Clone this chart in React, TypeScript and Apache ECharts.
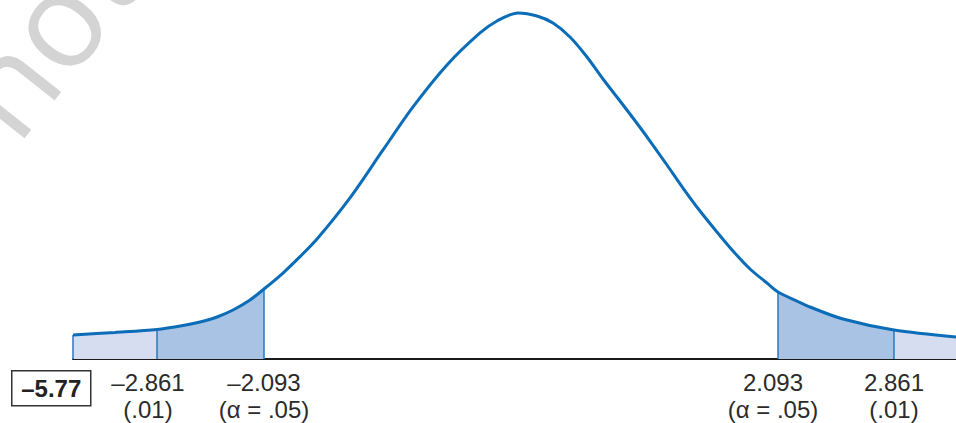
import React, { useEffect, useRef } from "react";
import * as echarts from "echarts";

// Curve (x in t-units along the axis, y in density units)
const curveX = [-3.584, -3.248, -2.912, -2.704, -2.568, -2.432, -2.304, -2.168, -2.056, -1.904, -1.768, -1.632, -1.368, -1.104, -0.864, -0.592, -0.328, -0.192, -0.024, 0.128, 0.256, 0.392, 0.528, 0.656, 0.792, 0.896, 1.032, 1.168, 1.296, 1.432, 1.568, 1.696, 1.832, 1.968, 2.056, 2.208, 2.312, 2.576, 2.984, 3.48];
const curveY = [0.0273, 0.0302, 0.0336, 0.0381, 0.0421, 0.0478, 0.0558, 0.0672, 0.0797, 0.0979, 0.1165, 0.1366, 0.1835, 0.238, 0.287, 0.3348, 0.3712, 0.3849, 0.394, 0.3906, 0.3826, 0.3667, 0.3439, 0.3188, 0.2938, 0.2744, 0.2482, 0.2209, 0.1947, 0.1685, 0.1446, 0.123, 0.1025, 0.0865, 0.0763, 0.066, 0.0592, 0.0455, 0.033, 0.0251];

// Critical value cut positions on the axis and their labels
const cutPositions = [-2.912, -2.056, 2.056, 2.984];
const tickTop = ["–2.861", "–2.093", "2.093", "2.861"];
const tickBottom = ["(.01)", "(α = .05)", "(α = .05)", "(.01)"];
const observedT = "–5.77";

// Shaded regions: [from, to, shade]
const regionFrom = [curveX[0], cutPositions[0], cutPositions[2], cutPositions[3]];
const regionTo = [cutPositions[0], cutPositions[1], cutPositions[3], curveX[curveX.length - 1]];
const regionShade = ["light", "dark", "dark", "light"];

const LIGHT = "#d6ddf0";
const DARK = "#a8c3e3";
const CURVE = "#0b6cb8";
const EDGE = "#2a78bb";
const TEXT = "#2b2b2b";
const FONT = "'Liberation Sans', Arial, sans-serif";

export default function App() {
  const ref = useRef<HTMLDivElement>(null);
  useEffect(() => {
    if (!ref.current) return;
    const chart = echarts.init(ref.current, null, { renderer: "svg" });
    const pts = curveX.map((x, i) => [x, curveY[i]]);
    const yAt = (x: number) => curveY[curveX.indexOf(x)];
    const areaSeries = regionFrom.map((a, k) => ({
      type: "line",
      data: pts.filter((p) => p[0] >= a - 1e-9 && p[0] <= regionTo[k] + 1e-9),
      smooth: 0.3,
      showSymbol: false,
      silent: true,
      lineStyle: { width: 0, opacity: 0 },
      areaStyle: { color: regionShade[k] === "dark" ? DARK : LIGHT, opacity: 1 },
      z: 1,
    }));
    const edgeXs = [curveX[0], ...cutPositions];
    const edgeSeries = edgeXs.map((x) => ({
      type: "line",
      data: [
        [x, 0],
        [x, yAt(x)],
      ],
      showSymbol: false,
      silent: true,
      lineStyle: { color: EDGE, width: 1.5 },
      z: 2,
    }));
    const shift = [18, 0, 10, 0];
    chart.setOption({
      animation: false,
      grid: { left: 73, right: 0, top: 7.7, bottom: 64 },
      xAxis: {
        type: "value",
        min: curveX[0],
        max: curveX[curveX.length - 1],
        splitLine: { show: false },
        axisTick: { show: false },
        axisLine: { show: true, onZero: false, lineStyle: { color: "#1a1a1a", width: 2 } },
        axisLabel: {
          customValues: cutPositions,
          margin: 10,
          color: TEXT,
          fontFamily: FONT,
          fontSize: 24,
          lineHeight: 27,
          formatter: (v: number) => {
            const i = cutPositions.findIndex((c) => Math.abs(c - v) < 1e-6);
            if (i < 0) return "";
            const s = "s" + i;
            return `{${s}|${tickTop[i]}}\n{${s}|${tickBottom[i]}}`;
          },
          rich: Object.fromEntries(
            cutPositions.map((_, i) => [
              "s" + i,
              {
                fontSize: 24,
                lineHeight: 27,
                fontFamily: FONT,
                color: TEXT,
                padding: [0, shift[i], 0, 0],
              },
            ])
          ),
        },
      },
      yAxis: { type: "value", min: 0, max: 0.4, show: false },
      graphic: [
        {
          type: "text",
          x: 42,
          y: 34,
          rotation: 0.9,
          silent: true,
          z: 0,
          style: {
            text: "not",
            fontSize: 132,
            fontFamily: "'Open Sans', 'Noto Sans', sans-serif",
            fill: "#d4d4d4",
            textAlign: "center",
            textVerticalAlign: "middle",
          },
        },
        {
          type: "group",
          left: 11,
          top: 370,
          children: [
            {
              type: "rect",
              shape: { x: 0, y: 0, width: 79, height: 35 },
              style: { fill: "#fff", stroke: "#333", lineWidth: 1.5 },
            },
            {
              type: "text",
              x: 39.5,
              y: 18,
              style: {
                text: observedT,
                fontSize: 24,
                fontWeight: "bold",
                fontFamily: FONT,
                fill: "#222",
                textAlign: "center",
                textVerticalAlign: "middle",
              },
            },
          ],
        },
      ],
      series: [
        ...areaSeries,
        ...edgeSeries,
        {
          type: "line",
          data: pts,
          smooth: 0.3,
          showSymbol: false,
          silent: true,
          lineStyle: { color: CURVE, width: 3 },
          z: 3,
        },
      ],
    });
    return () => chart.dispose();
  }, []);
  return (
    <div
      ref={ref}
      style={{ position: "fixed", left: 0, top: 0, width: 956, height: 423, background: "#fff" }}
    />
  );
}
